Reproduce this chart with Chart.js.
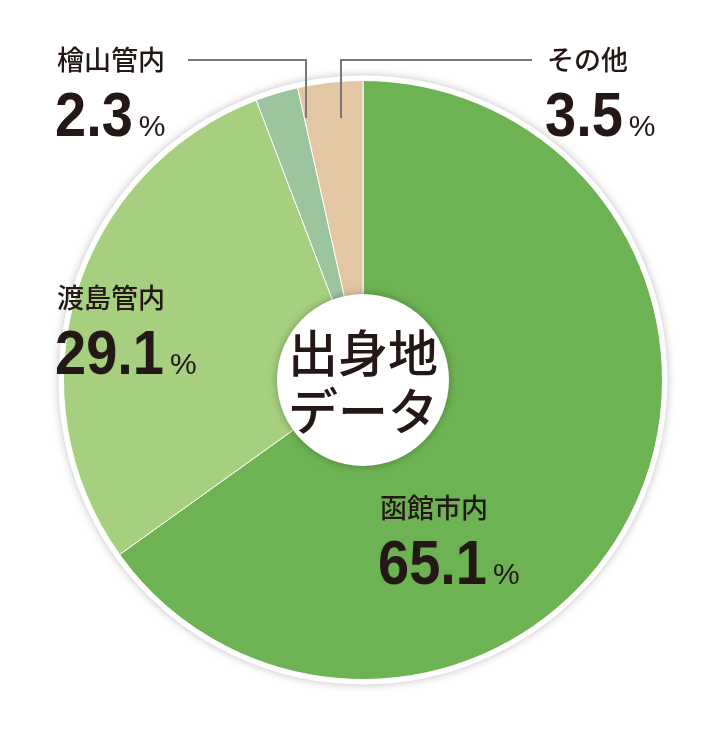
<!DOCTYPE html>
<html><head><meta charset="utf-8">
<script src="https://cdn.jsdelivr.net/npm/chart.js@4"></script>
<style>html,body{margin:0;background:#fff}</style>
</head><body>
<canvas id="c" width="709" height="740"></canvas>
<script>
var categories = ["函館市内", "渡島管内", "檜山管内", "その他"];
var shares = [65.1, 29.1, 2.3, 3.5];
var colors = ["#6db353", "#a6d07f", "#9cc49f", "#e3c7a3"];
var centerTitle = ["出身地", "データ"];

var jp = '"Noto Sans CJK JP", sans-serif';
var num = '"Liberation Sans", Arial, sans-serif';

function drawLabel(ctx, name, value, x, y) {
  ctx.fillStyle = "#231815";
  ctx.textBaseline = "alphabetic";
  ctx.textAlign = "left";
  ctx.font = "500 27px " + jp;
  ctx.fillText(name, x, y);
  var s = value.toFixed(1);
  ctx.save();
  ctx.translate(x - 2, y + 66);
  ctx.scale(1, 1.12);
  ctx.font = "bold 56px " + num;
  ctx.fillText(s, 0, 0);
  var w = ctx.measureText(s).width;
  ctx.restore();
  ctx.font = "30px " + num;
  ctx.fillText("%", x + w + 4, y + 66);
}

var overlay = {
  id: "overlay",
  beforeDatasetsDraw: function(chart) {
    var a = chart.getDatasetMeta(0).data[0];
    var ctx = chart.ctx;
    ctx.save();
    ctx.shadowColor = "rgba(0,0,0,0.25)";
    ctx.shadowBlur = 8;
    ctx.beginPath();
    ctx.arc(a.x, a.y, a.outerRadius + 5, 0, Math.PI * 2);
    ctx.fillStyle = "#fff";
    ctx.fill();
    ctx.restore();
  },
  afterDraw: function(chart) {
    var ctx = chart.ctx;
    var a = chart.getDatasetMeta(0).data[0];
    ctx.save();
    ctx.shadowColor = "rgba(0,0,0,0.3)";
    ctx.shadowBlur = 8;
    ctx.beginPath();
    ctx.arc(a.x, a.y, 86, 0, Math.PI * 2);
    ctx.fillStyle = "#fff";
    ctx.fill();
    ctx.restore();
    ctx.save();
    ctx.fillStyle = "#231815";
    ctx.textAlign = "center";
    ctx.font = "500 50px " + jp;
    ctx.fillText(centerTitle[0], a.x, a.y - 8);
    ctx.fillText(centerTitle[1], a.x, a.y + 50);
    // leader lines
    ctx.strokeStyle = "#777";
    ctx.lineWidth = 2;
    ctx.beginPath();
    ctx.moveTo(188, 60); ctx.lineTo(306, 60); ctx.lineTo(306, 118);
    ctx.moveTo(341, 118); ctx.lineTo(341, 60); ctx.lineTo(532, 60);
    ctx.stroke();
    drawLabel(ctx, categories[2], shares[2], 57, 70);
    drawLabel(ctx, categories[3], shares[3], 547, 70);
    drawLabel(ctx, categories[1], shares[1], 57, 308);
    drawLabel(ctx, categories[0], shares[0], 380, 518);
    ctx.restore();
  }
};

new Chart(document.getElementById("c"), {
  type: "pie",
  data: {
    labels: categories,
    datasets: [{ data: shares, backgroundColor: colors, borderColor: "#fff", borderWidth: 1 }]
  },
  options: {
    responsive: false,
    animation: false,
    layout: { padding: { left: 63, right: 46, top: 80, bottom: 60 } },
    plugins: { legend: { display: false }, tooltip: { enabled: false } }
  },
  plugins: [overlay]
});
</script>
</body></html>
